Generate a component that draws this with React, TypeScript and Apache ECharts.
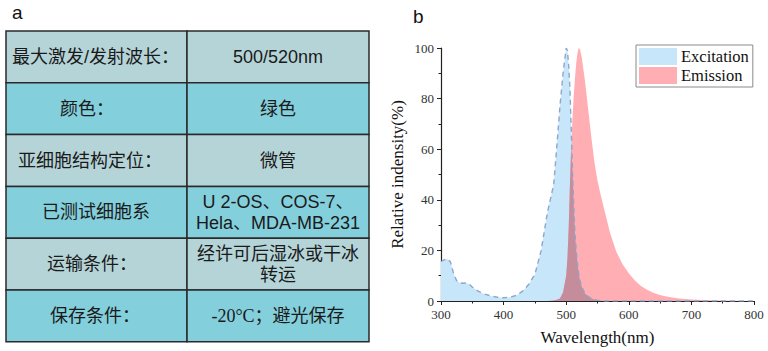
import React, { useEffect, useRef } from "react";
import * as echarts from "echarts";

// ---- data ----
const wavelengths = [
  300, 305, 310, 315, 320, 325, 330, 335, 340, 345, 350,
  360, 370, 380, 390, 400, 410, 420, 430, 440, 450, 460, 470, 480,
  485, 490, 495,
  500, 502, 504, 506, 508, 510, 512, 514, 516, 518, 520, 522,
  525, 530, 535, 540, 545, 550, 555, 560,
  570, 580, 590, 600, 610, 620, 630, 640, 650, 660,
  680, 700, 720, 750, 800,
];
const excitation = [
  15.5, 16.3, 16.6, 15.5, 11, 8, 7.2, 7, 7.1, 6.6, 5.5,
  3.8, 2.7, 2, 1.5, 1.3, 1.5, 2.2, 3.8, 6.5, 10.5, 20, 35, 46,
  61, 77, 90,
  100, 99, 93, 84, 68, 52, 38, 27, 20, 15, 11, 8,
  5.5, 3, 1.8, 1, 0.6, 0.3, 0.1, 0,
  0, 0, 0, 0, 0, 0, 0, 0, 0, 0,
  0, 0, 0, 0, 0,
];
const emission = [
  0, 0, 0, 0, 0, 0, 0, 0, 0, 0, 0,
  0, 0, 0, 0, 0, 0, 0, 0, 0, 0, 0, 0, 0.2,
  0.5, 1, 3.5,
  10, 17, 29, 46, 61, 72, 81, 88, 94, 98, 100, 99.5,
  96, 87, 76, 65, 55, 47.5, 42, 37,
  27, 19.5, 14.5, 11, 8, 5.8, 4.3, 3.2, 2.4, 1.8,
  1.0, 0.6, 0.4, 0.2, 0,
];
const seriesNames = ["Excitation", "Emission"];
const xTicks = { min: 300, max: 800, interval: 100 };
const yTicks = { min: 0, max: 100, interval: 20 };

const tableLabels = [
  "最大激发/发射波长：",
  "颜色：",
  "亚细胞结构定位：",
  "已测试细胞系",
  "运输条件：",
  "保存条件：",
];
const tableValues = [
  "500/520nm",
  "绿色",
  "微管",
  "U 2-OS、COS-7、\nHela、MDA-MB-231",
  "经许可后湿冰或干冰\n转运",
  "-20°C；避光保存",
];

// ---- layout / style ----
const TX0 = 6, TX1 = 187, TX2 = 369, TY0 = 31, RH = 51.8;
const labelStartX = [12, 60, 18, 42, 47, 50];
const rowColors = ["#b5d4d8", "#84cfdc"];
const CJK = '"Liberation Sans", "Noto Sans CJK SC", sans-serif';
const SERIF = '"Liberation Serif", "DejaVu Serif", serif';

const BLUE = "#c7e6fa";
const PINK = "#ffaeb3";
const OVER = "#c58c9c";
const DASH = "#8ea6cb";

export default function App() {
  const ref = useRef<HTMLDivElement>(null);
  useEffect(() => {
    if (!ref.current) return;
    const chart = echarts.init(ref.current, undefined, { renderer: "svg" });
    const exc = wavelengths.map((w, i) => [w, excitation[i]]);
    const emi = wavelengths.map((w, i) => [w, emission[i]]);
    const ovl = wavelengths.map((w, i) => [w, Math.min(excitation[i], emission[i])]);

    const graphics: any[] = [];
    graphics.push({
      type: "text",
      left: 12,
      top: 3,
      style: { text: "a", fontSize: 19, fontFamily: CJK, fill: "#111" },
    });
    graphics.push({
      type: "text",
      left: 413,
      top: 7,
      style: { text: "b", fontSize: 19, fontFamily: CJK, fill: "#111" },
    });
    tableLabels.forEach((lab, i) => {
      const y = TY0 + i * RH;
      const fill = rowColors[i % 2];
      graphics.push({
        type: "rect",
        shape: { x: TX0, y, width: TX1 - TX0, height: RH },
        style: { fill, stroke: "#2a2a2a", lineWidth: 1.5 },
      });
      graphics.push({
        type: "rect",
        shape: { x: TX1, y, width: TX2 - TX1, height: RH },
        style: { fill, stroke: "#2a2a2a", lineWidth: 1.5 },
      });
      graphics.push({
        type: "text",
        x: labelStartX[i],
        y: y + RH / 2,
        style: {
          text: lab,
          fontSize: 18,
          fontFamily: CJK,
          fill: "#1a1a1a",
          align: "left",
          verticalAlign: "middle",
        },
      });
      const val = tableValues[i];
      if (val.startsWith("-20°C")) {
        graphics.push({
          type: "text",
          x: (TX1 + TX2) / 2,
          y: y + RH / 2,
          style: {
            text: "{s|-20°C}{c|；避光保存}",
            align: "center",
            verticalAlign: "middle",
            rich: {
              s: { fontSize: 18, fontFamily: SERIF, fill: "#1a1a1a" },
              c: { fontSize: 18, fontFamily: CJK, fill: "#1a1a1a" },
            },
          },
        });
      } else {
        graphics.push({
          type: "text",
          x: (TX1 + TX2) / 2,
          y: y + RH / 2,
          style: {
            text: val,
            fontSize: 18,
            fontFamily: CJK,
            fill: "#1a1a1a",
            align: "center",
            verticalAlign: "middle",
            lineHeight: 21,
          },
        });
      }
    });

    chart.setOption({
      animation: false,
      backgroundColor: "#ffffff",
      graphic: graphics,
      grid: { left: 441, right: 14, top: 48, bottom: 50, containLabel: false },
      legend: {
        left: 636,
        top: 45,
        orient: "vertical",
        itemWidth: 38,
        itemHeight: 17,
        itemGap: 2,
        padding: [3, 4, 3, 3],
        borderColor: "#8a8a8a",
        borderWidth: 1,
        backgroundColor: "#ffffff",
        textStyle: { fontFamily: SERIF, fontSize: 16.5, color: "#111", padding: [0, 0, 0, -1] },
        data: [
          { name: seriesNames[0], icon: "rect", itemStyle: { color: BLUE } },
          { name: seriesNames[1], icon: "rect", itemStyle: { color: PINK } },
        ],
      },
      xAxis: {
        type: "value",
        min: xTicks.min,
        max: xTicks.max,
        interval: xTicks.interval,
        name: "Wavelength(nm)",
        nameLocation: "middle",
        nameGap: 28,
        nameTextStyle: { fontFamily: SERIF, fontSize: 17, color: "#111" },
        axisLine: { show: true, onZero: false, lineStyle: { color: "#222", width: 1.2 } },
        axisTick: { show: true, length: 4, lineStyle: { color: "#222" } },
        minorTick: { show: true, splitNumber: 2, length: 2.5, lineStyle: { color: "#222" } },
        axisLabel: { fontFamily: SERIF, fontSize: 13, color: "#333", margin: 7 },
        splitLine: { show: false },
      },
      yAxis: {
        type: "value",
        min: yTicks.min,
        max: yTicks.max,
        interval: yTicks.interval,
        name: "Relative indensity(%)",
        nameLocation: "middle",
        nameGap: 35,
        nameTextStyle: { fontFamily: SERIF, fontSize: 17, color: "#111" },
        axisLine: { show: true, lineStyle: { color: "#222", width: 1.2 } },
        axisTick: { show: true, length: 4, lineStyle: { color: "#222" } },
        minorTick: { show: true, splitNumber: 2, length: 2.5, lineStyle: { color: "#222" } },
        axisLabel: { fontFamily: SERIF, fontSize: 13, color: "#333", margin: 7 },
        splitLine: { show: false },
      },
      series: [
        {
          name: seriesNames[0],
          type: "line",
          data: exc,
          showSymbol: false,
          symbol: "none",
          itemStyle: { color: BLUE },
          lineStyle: { width: 0, color: BLUE },
          areaStyle: { color: BLUE, opacity: 1 },
          z: 2,
        },
        {
          name: seriesNames[1],
          type: "line",
          data: emi,
          showSymbol: false,
          symbol: "none",
          itemStyle: { color: PINK },
          lineStyle: { width: 0, color: PINK },
          areaStyle: { color: PINK, opacity: 1 },
          z: 3,
        },
        {
          name: "overlap",
          type: "line",
          data: ovl,
          showSymbol: false,
          symbol: "none",
          lineStyle: { width: 0, color: OVER },
          areaStyle: { color: OVER, opacity: 1 },
          z: 4,
        },
        {
          name: "excitationLine",
          type: "line",
          data: exc,
          showSymbol: false,
          symbol: "none",
          lineStyle: { width: 1.4, color: DASH, type: [5, 4] },
          z: 5,
        },
      ],
    });
    return () => chart.dispose();
  }, []);
  return (
    <div
      ref={ref}
      style={{ position: "fixed", left: 0, top: 0, width: 768, height: 351 }}
    />
  );
}
